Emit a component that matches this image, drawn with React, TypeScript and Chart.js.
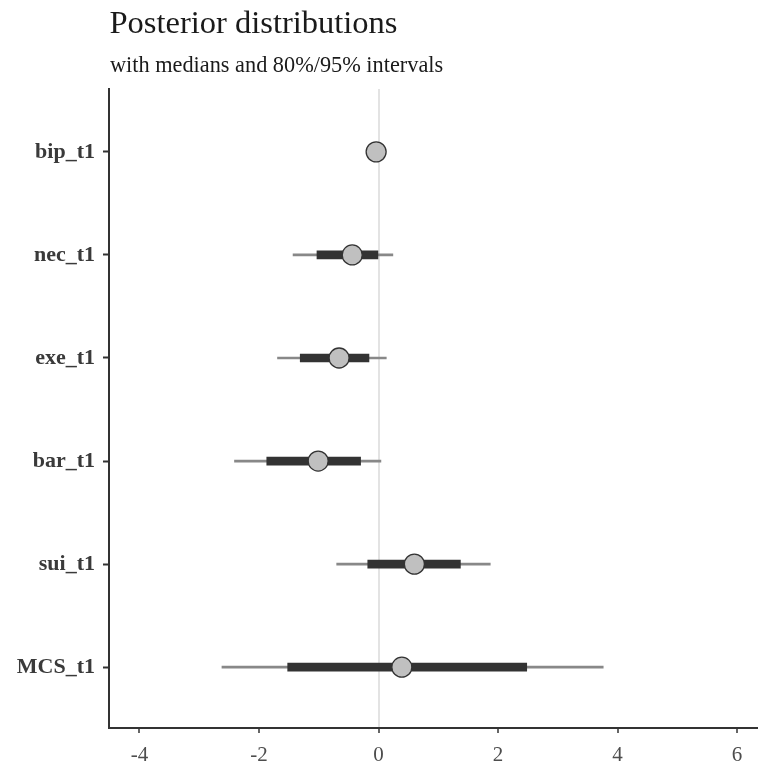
import React, { useEffect, useRef } from "react";
import { Chart, registerables } from "chart.js";

Chart.register(...registerables);

const TITLE = "Posterior distributions";
const SUBTITLE = "with medians and 80%/95% intervals";

const CATEGORIES = ["bip_t1", "nec_t1", "exe_t1", "bar_t1", "sui_t1", "MCS_t1"];
const MEDIANS = [-0.04, -0.44, -0.66, -1.01, 0.6, 0.39];
const INNER_LOW = [-0.07, -1.03, -1.31, -1.87, -0.18, -1.52];
const INNER_HIGH = [-0.01, -0.01, -0.16, -0.3, 1.37, 2.48];
const OUTER_LOW = [-0.1, -1.43, -1.69, -2.41, -0.7, -2.62];
const OUTER_HIGH = [0.02, 0.24, 0.13, 0.04, 1.87, 3.76];
const X_TICKS = [-4, -2, 0, 2, 4, 6];

const FONT = "'Liberation Serif', 'Times New Roman', serif";

const titlePlugin = {
  id: "titles",
  afterDraw(chart: any) {
    const ctx = chart.ctx;
    ctx.save();
    ctx.textAlign = "left";
    ctx.textBaseline = "alphabetic";
    ctx.fillStyle = "#1a1a1a";
    ctx.font = `32.5px ${FONT}`;
    ctx.fillText(TITLE, 109.5, 33);
    ctx.font = `22.3px ${FONT}`;
    ctx.fillText(SUBTITLE, 110, 72);
    ctx.restore();
  },
};

export default function App() {
  const ref = useRef<HTMLCanvasElement>(null);
  useEffect(() => {
    document.body.style.margin = "0";
    const canvas = ref.current!;
    const chart = new Chart(canvas, {
      type: "bar",
      data: {
        datasets: [
          {
            type: "scatter",
            label: "median",
            data: MEDIANS.map((m, i) => ({ x: m, y: i })),
            pointRadius: 10,
            pointBackgroundColor: "#c0c0c0",
            pointBorderColor: "#333333",
            pointBorderWidth: 1.3,
            order: 0,
          } as any,
          {
            type: "bar",
            label: "80%",
            indexAxis: "y",
            grouped: false,
            data: INNER_LOW.map((lo, i) => ({ x: [lo, INNER_HIGH[i]], y: i })),
            backgroundColor: "#333333",
            barThickness: 8,
            borderWidth: 0,
            order: 1,
          } as any,
          {
            type: "bar",
            label: "95%",
            indexAxis: "y",
            grouped: false,
            data: OUTER_LOW.map((lo, i) => ({ x: [lo, OUTER_HIGH[i]], y: i })),
            backgroundColor: "#888888",
            barThickness: 2,
            borderWidth: 0,
            order: 2,
          } as any,
        ],
      },
      options: {
        responsive: false,
        animation: false,
        devicePixelRatio: 1,
        layout: { autoPadding: false, padding: { top: 89, left: 0, right: 0, bottom: 0 } },
        plugins: {
          legend: { display: false },
          tooltip: { enabled: false },
          title: { display: false },
        },
        scales: {
          x: {
            type: "linear",
            offset: false,
            min: -4.51,
            max: 6.35,
            afterBuildTicks: (s: any) => {
              s.ticks = X_TICKS.map((v) => ({ value: v }));
            },
            afterFit: (s: any) => {
              s.height = 36;
            },
            ticks: {
              font: { family: FONT, size: 21 },
              color: "#4d4d4d",
              padding: 10,
              maxRotation: 0,
              callback: (v: any) => String(v),
            },
            grid: {
              offset: false,
              drawOnChartArea: true,
              color: (c: any) => (c.tick && c.tick.value === 0 ? "#e3e3e3" : "rgba(0,0,0,0)"),
              lineWidth: 2,
              tickColor: "#333333",
              tickLength: 5,
              tickWidth: 1.5,
            },
            border: { display: true, color: "#333333", width: 2 },
          },
          y: {
            type: "linear",
            offset: false,
            reverse: true,
            min: -0.61,
            max: 5.59,
            afterBuildTicks: (s: any) => {
              s.ticks = CATEGORIES.map((_, i) => ({ value: i }));
            },
            afterFit: (s: any) => {
              s.width = 109;
            },
            ticks: {
              font: { family: FONT, size: 22, weight: "bold" },
              color: "#3a3a3a",
              padding: 8,
              callback: (v: any) => CATEGORIES[v] ?? "",
            },
            grid: {
              offset: false,
              drawOnChartArea: false,
              tickColor: "#333333",
              tickLength: 6,
              tickWidth: 2,
            },
            border: { display: true, color: "#333333", width: 2 },
          },
        },
      },
      plugins: [titlePlugin],
    } as any);
    return () => chart.destroy();
  }, []);
  return (
    <div style={{ width: 758, height: 764 }}>
      <canvas ref={ref} width={758} height={764} />
    </div>
  );
}
